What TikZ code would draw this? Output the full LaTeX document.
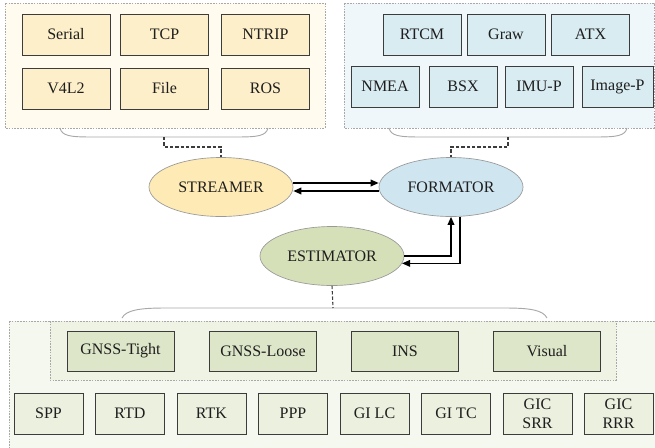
\documentclass[tikz,border=0pt]{standalone}
\usepackage{fontspec}
\setmainfont{Liberation Serif}
\usetikzlibrary{shapes.geometric,arrows.meta}
\definecolor{txt}{HTML}{1E1E1E}
\definecolor{panelY}{HTML}{FFFBEE}
\definecolor{boxY}{HTML}{FDEFC9}
\definecolor{panelB}{HTML}{F0F7FA}
\definecolor{boxB}{HTML}{D9ECF2}
\definecolor{panelG}{HTML}{F5F8EE}
\definecolor{innerG}{HTML}{EEF3E3}
\definecolor{boxG}{HTML}{DDE6C8}
\definecolor{boxGl}{HTML}{EBF0DF}
\definecolor{ellY}{HTML}{FDEAB4}
\definecolor{ellB}{HTML}{CFE6F0}
\definecolor{ellG}{HTML}{D5E0B8}
\definecolor{bord}{HTML}{3C3C3C}
\definecolor{lgray}{HTML}{A8A8A8}
\tikzset{
  boxbase/.style={draw=bord, line width=0.6pt, inner sep=0pt, align=center,
    font=\fontsize{12}{14}\selectfont, text=txt, minimum height=30.75pt},
  ybox/.style={boxbase, fill=boxY, minimum width=66pt},
  bbox/.style={boxbase, fill=boxB, minimum width=58.5pt},
  bboxs/.style={boxbase, fill=boxB, minimum width=51pt},
  gbox/.style={boxbase, fill=boxG, minimum width=80.25pt, minimum height=30pt},
  lbox/.style={boxbase, fill=boxGl, minimum width=51.75pt},
  ell/.style={ellipse, draw=gray!80, line width=0.5pt, inner sep=0pt,
    minimum width=108pt, minimum height=44.25pt,
    font=\fontsize{12}{14}\selectfont, text=txt},
  panel/.style={draw=lgray, line width=0.5pt, dash pattern=on 1.2pt off 0.9pt},
  brace/.style={draw=lgray, line width=0.7pt},
  link/.style={draw=bord, line width=0.8pt, dash pattern=on 2.5pt off 1.5pt},
  arr/.style={draw=black, line width=1pt, -{Triangle[length=6pt,width=5pt]}},
}
\begin{document}
\begin{tikzpicture}[x=0.75pt,y=-0.75pt]
\useasboundingbox (0,0) rectangle (655,447);
\clip (0,0) rectangle (655,447);
% panels
\path[panel, fill=panelY] (5,3) rectangle (325,128);
\path[panel, fill=panelB] (344,3) rectangle (654,128);
\path[panel, fill=panelG] (9,321) rectangle (660,452);
\path[panel, fill=innerG] (50,321) rectangle (616,380);
% top-left boxes
\node[ybox] (serial) at (66,34.5) {Serial};
\node[ybox] (tcp) at (164.5,34.5) {TCP};
\node[ybox] (ntrip) at (265.5,34.5) {NTRIP};
\node[ybox] (v4l2) at (66,88.5) {V4L2};
\node[ybox] (file) at (164.5,88.5) {File};
\node[ybox] (ros) at (265.5,88.5) {ROS};
% top-right boxes
\node[bbox] (rtcm) at (422,34.5) {RTCM};
\node[bbox] (graw) at (506,34.5) {Graw};
\node[bbox] (atx) at (590.5,34.5) {ATX};
\node[bboxs] (nmea) at (385,86.5) {NMEA};
\node[bboxs] (bsx) at (463,86.5) {BSX};
\node[bboxs] (imup) at (539,86.5) {IMU-P};
\node[bboxs, minimum width=53.25pt] (imgp) at (617.5,86.5) {Image-P};
% ellipses
\node[ell, fill=ellY] (streamer) at (221,187) {STREAMER};
\node[ell, fill=ellB] (formator) at (451,187) {FORMATOR};
\node[ell, fill=ellG] (estimator) at (332,256) {ESTIMATOR};
% inner green boxes
\node[gbox] (tight) at (120.5,351) {GNSS-Tight};
\node[gbox] (loose) at (263,351) {GNSS-Loose};
\node[gbox] (ins) at (405,351) {INS};
\node[gbox] (visual) at (547,351) {Visual};
% bottom row
\node[lbox] (spp) at (48.5,413.5) {SPP};
\node[lbox] (rtd) at (130,413.5) {RTD};
\node[lbox] (rtk) at (211.5,413.5) {RTK};
\node[lbox] (ppp) at (293,413.5) {PPP};
\node[lbox] (gilc) at (374.5,413.5) {GI LC};
\node[lbox] (gitc) at (456,413.5) {GI TC};
\node[lbox] (gicsrr) at (537.5,413.5) {GIC\\SRR};
\node[lbox] (gicrrr) at (618.5,413.5) {GIC\\RRR};
% braces
\draw[brace] (60,128) .. controls (62,136) and (70,137) .. (92,137) -- (236,137) .. controls (258,137) and (266,136) .. (268,128);
\draw[brace] (389,128) .. controls (391,136) and (399,137) .. (421,137) -- (595,137) .. controls (617,137) and (625,136) .. (627,128);
\draw[brace] (122,318) .. controls (126,310) and (140,308) .. (165,308) -- (505,308) .. controls (530,308) and (543,310) .. (547,318);
\coordinate (tipL) at (164,137);
\coordinate (tipR) at (508,137);
\coordinate (tipB) at (333,308);
% dashed links
\draw[link] (tipL) -- (164,147) -| (streamer.north);
\draw[link] (tipR) -- (508,147) -| (formator.north);
\draw[link] (estimator.south) -- (tipB);
% arrows
\draw[arr] ([yshift=3pt]streamer.east) -- ([yshift=3pt]formator.west);
\draw[arr] ([yshift=-3pt]formator.west) -- ([yshift=-3pt]streamer.east);
\draw[arr] (estimator.east) -| (formator.south);
\draw[arr] (formator.-73) |- (estimator.-6);
\end{tikzpicture}
\end{document}
